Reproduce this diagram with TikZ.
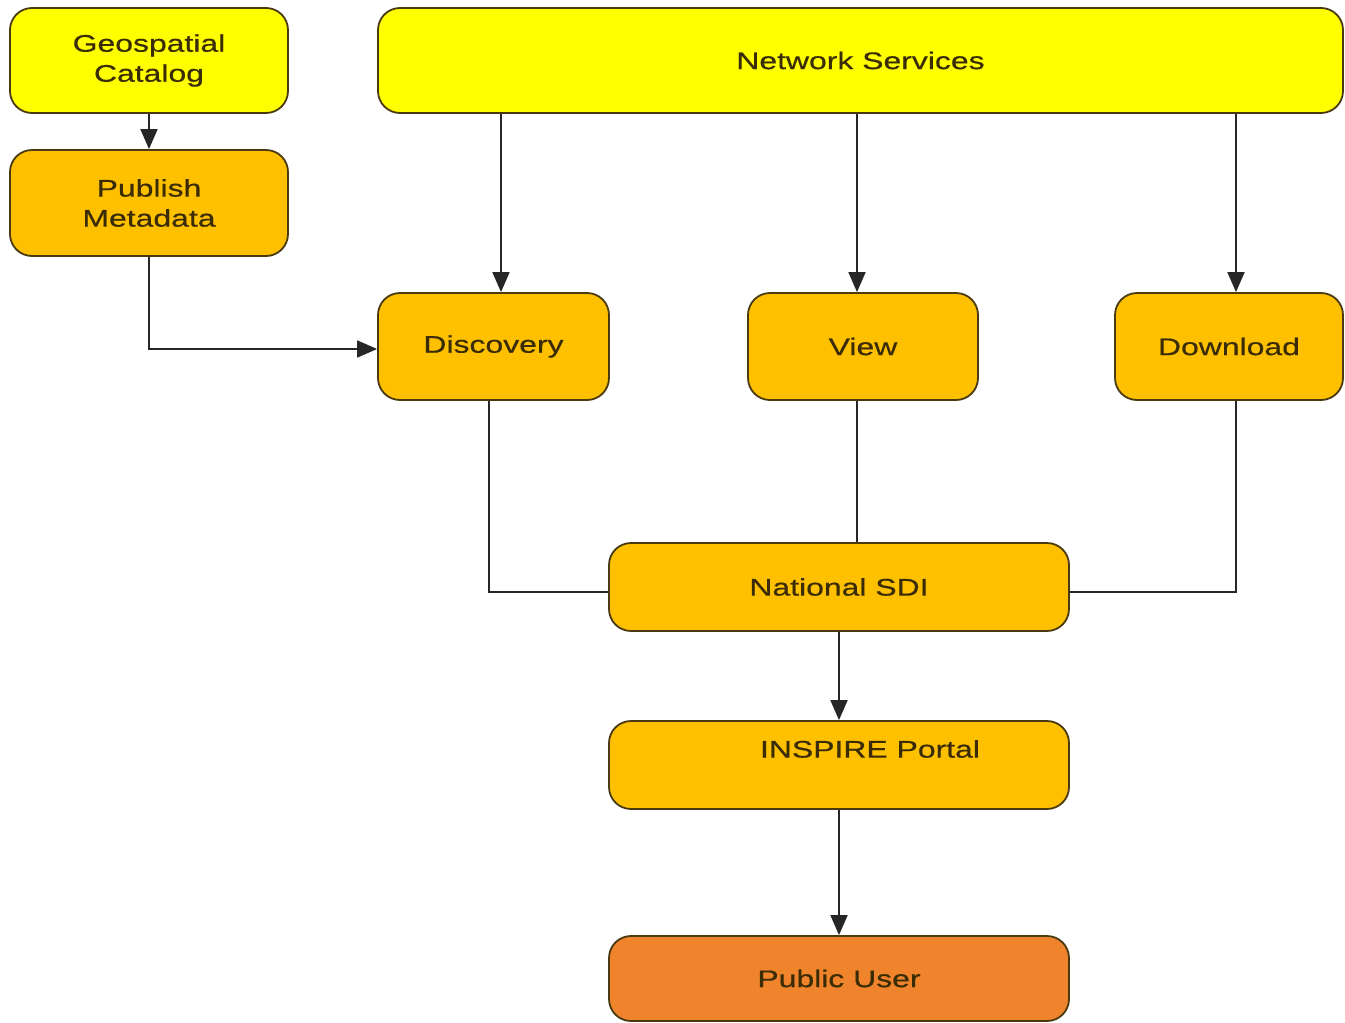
\documentclass[tikz,border=0pt]{standalone}
\usepackage{fontspec}
\setmainfont{Liberation Sans}[FakeStretch=1.33,FakeBold=0.6]
\usetikzlibrary{arrows.meta}
\definecolor{yel}{HTML}{FFFF00}
\definecolor{org}{HTML}{FFC000}
\definecolor{pubc}{HTML}{F0842C}
\definecolor{edge}{HTML}{4A3A10}
\definecolor{txtc}{HTML}{3A2C05}
\begin{document}
\begin{tikzpicture}[x=1pt,y=-1pt,
  box/.style={draw=edge, line width=1.8pt, rounded corners=22pt, inner sep=0pt,
    align=center, text=txtc, font=\fontsize{24}{30}\selectfont},
  txt/.style={inner sep=0pt, align=center, text=txtc, font=\fontsize{24}{30}\selectfont},
  con/.style={draw=black!85, line width=1.8pt},
  arr/.style={con, -{Triangle[length=20pt,width=17pt]}}]
\useasboundingbox (0,0) rectangle (1345,1023);
\node[box, fill=yel, minimum width=278pt, minimum height=105pt] (gc) at (149,60.5) {Geospatial\\Catalog};
\node[box, fill=yel, minimum width=965pt, minimum height=105pt] (ns) at (860.5,60.5) {Network Services};
\node[box, fill=org, minimum width=278pt, minimum height=106pt] (pm) at (149,203) {Publish\\Metadata};
\node[box, fill=org, minimum width=231pt, minimum height=107pt] (disc) at (493.5,346.5) {Discovery};
\node[box, fill=org, minimum width=230pt, minimum height=107pt] (view) at (863,346.5) {View};
\node[box, fill=org, minimum width=228pt, minimum height=107pt] (down) at (1229,346.5) {Download};
\node[box, fill=org, minimum width=460pt, minimum height=88pt] (sdi) at (839,587) {National SDI};
\node[box, fill=org, minimum width=460pt, minimum height=88pt] (insp) at (839,765) {};
\node[txt] (inspt) at (870,749) {INSPIRE Portal};
\node[box, fill=pubc, minimum width=460pt, minimum height=85pt] (pub) at (839,978.5) {Public User};
\coordinate (xa) at (501,0);
\coordinate (xb) at (857,0);
\coordinate (xc) at (1236,0);
\coordinate (xd) at (489,0);
\coordinate (ya) at (0,349);
\coordinate (yb) at (0,592);
\draw[arr] (gc.south) -- (pm.north);
\draw[arr] (pm.south) |- (disc.west |- ya);
\draw[arr] (ns.south -| xa) -- (disc.north -| xa);
\draw[arr] (ns.south -| xb) -- (view.north -| xb);
\draw[arr] (ns.south -| xc) -- (down.north -| xc);
\draw[con] (disc.south -| xd) |- (sdi.west |- yb);
\draw[con] (view.south -| xb) -- (sdi.north -| xb);
\draw[con] (down.south -| xc) |- (sdi.east |- yb);
\draw[arr] (sdi.south) -- (insp.north);
\draw[arr] (insp.south) -- (pub.north);
\end{tikzpicture}
\end{document}
